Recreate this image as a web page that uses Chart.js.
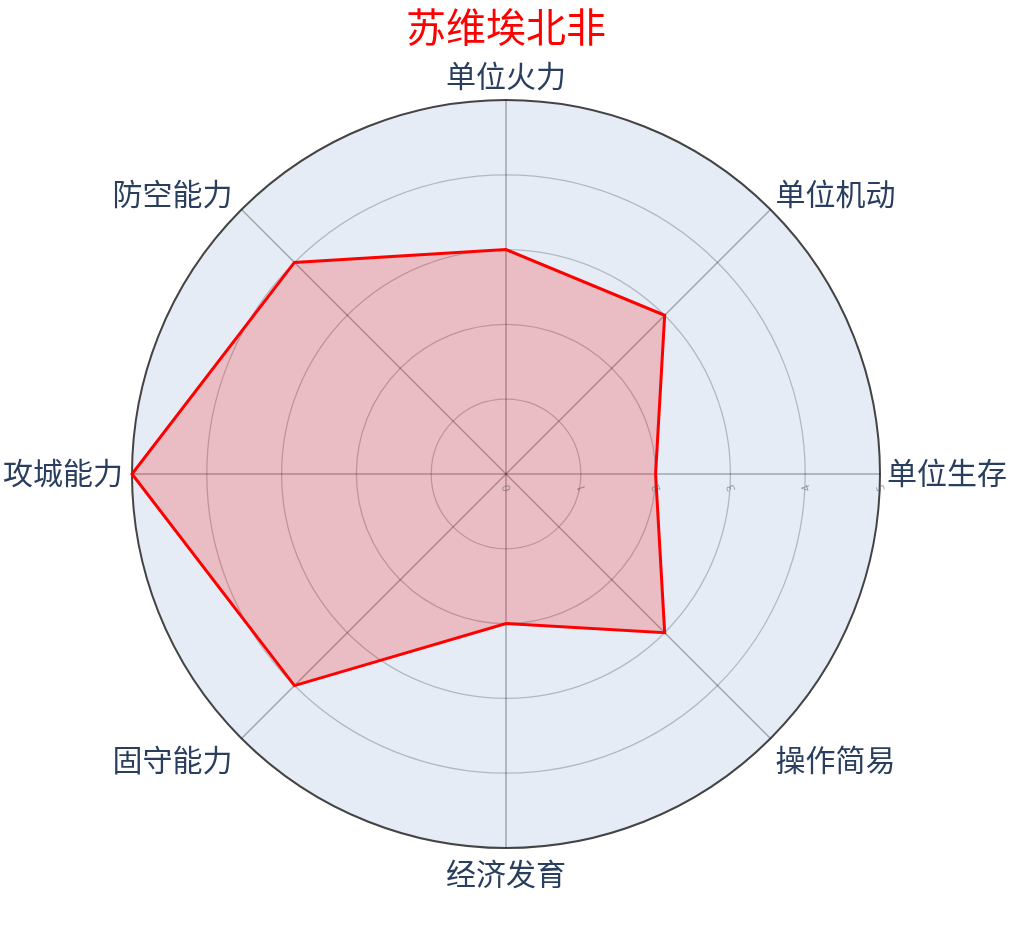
<!DOCTYPE html>
<html>
<head>
<meta charset="utf-8">
<script src="https://cdn.jsdelivr.net/npm/chart.js@4.4.1/dist/chart.umd.min.js"></script>
<style>
    html, body { margin: 0; padding: 0; background: #fff; }
    #wrap { width: 1010px; height: 929px; }
</style>
</head>
<body>
<div id="wrap"><canvas id="radar"></canvas></div>
<script>
const titleText = '苏维埃北非';
// clockwise from the right-hand axis
const categories = ['单位生存', '操作简易', '经济发育', '固守能力', '攻城能力', '防空能力', '单位火力', '单位机动'];
const scores = [2, 3, 2, 4, 5, 4, 3, 3];
const radialTicks = [0, 1, 2, 3, 4, 5];

const FONT = '"Open Sans", "Noto Sans CJK SC", sans-serif';

// category labels placed around the outer circle
const axisLabels = {
    id: 'axisLabels',
    afterDraw(chart) {
        const scale = chart.scales.r;
        const ctx = chart.ctx;
        ctx.save();
        ctx.font = '30px ' + FONT;
        ctx.fillStyle = '#2a3f5f';
        ctx.textBaseline = 'middle';
        categories.forEach((name, i) => {
            const p = scale.getPointPosition(i, scale.drawingArea);
            const dx = (p.x - scale.xCenter) / scale.drawingArea;
            const dy = (p.y - scale.yCenter) / scale.drawingArea;
            let x = p.x, y = p.y;
            if (Math.abs(dx) < 0.1) {
                ctx.textAlign = 'center';
                y += dy < 0 ? -22 : 28;
            } else {
                if (dx > 0) {
                    ctx.textAlign = 'left';
                    x += Math.abs(dy) < 0.1 ? 7 : 5;
                } else {
                    ctx.textAlign = 'right';
                    x -= 9;
                }
                if (Math.abs(dy) < 0.1) {
                    y += 1;
                } else {
                    y += dy < 0 ? -13 : 24;
                }
            }
            ctx.fillText(name, x, y);
        });
        ctx.restore();
    }
};

// small rotated tick labels along the first axis
const tickLabels = {
    id: 'tickLabels',
    afterDatasetsDraw(chart) {
        const scale = chart.scales.r;
        const ctx = chart.ctx;
        ctx.save();
        ctx.font = '11px ' + FONT;
        ctx.fillStyle = 'rgba(90, 90, 100, 0.6)';
        ctx.textAlign = 'center';
        ctx.textBaseline = 'middle';
        radialTicks.forEach(v => {
            const p = scale.getPointPositionForValue(0, v);
            ctx.save();
            ctx.translate(p.x + 1, p.y + 14);
            ctx.rotate(-Math.PI * 0.6);
            ctx.fillText(String(v), 0, 0);
            ctx.restore();
        });
        ctx.restore();
    }
};

new Chart(document.getElementById('radar'), {
    type: 'radar',
    data: {
        labels: categories,
        datasets: [{
            data: scores,
            borderColor: '#ff0000',
            backgroundColor: 'rgba(255, 0, 0, 0.2)',
            borderWidth: 3,
            fill: true,
            pointRadius: 0,
            pointHoverRadius: 0,
            tension: 0
        }]
    },
    options: {
        responsive: true,
        maintainAspectRatio: false,
        animation: false,
        layout: { padding: { top: 0, bottom: 81, left: 2, right: 0 } },
        plugins: {
            legend: { display: false },
            tooltip: { enabled: false },
            title: {
                display: true,
                text: titleText,
                color: '#ff0000',
                font: { size: 40, family: FONT, weight: 'normal', lineHeight: 1.2 },
                padding: { top: 7, bottom: 45 }
            }
        },
        scales: {
            r: {
                min: 0,
                max: 5,
                startAngle: 90,
                backgroundColor: '#e5ecf6',
                ticks: { display: false, stepSize: 1 },
                grid: {
                    circular: true,
                    color: c => c.tick && c.tick.value === 5 ? '#444444' : 'rgba(0, 0, 0, 0.22)',
                    lineWidth: c => c.tick && c.tick.value === 5 ? 2 : 1.3
                },
                angleLines: { color: 'rgba(0, 0, 0, 0.3)', lineWidth: 1.5 },
                pointLabels: { display: false }
            }
        }
    },
    plugins: [tickLabels, axisLabels]
});
</script>
</body>
</html>
